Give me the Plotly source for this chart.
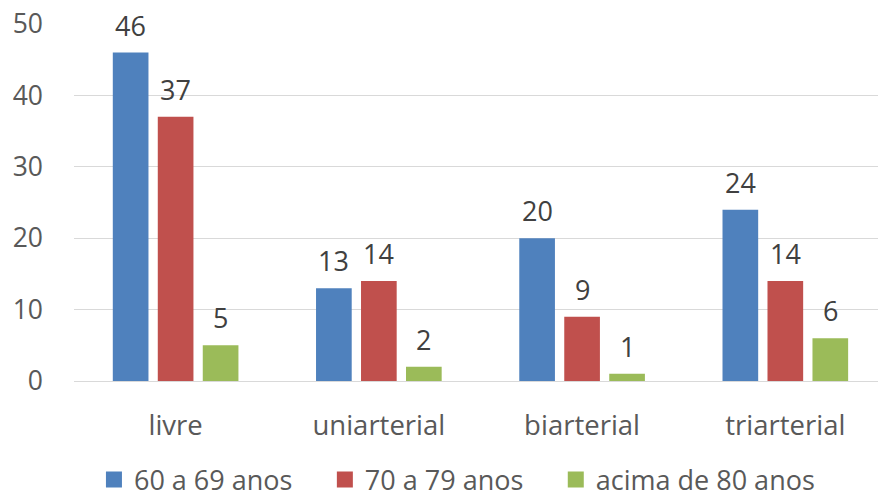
import plotly.graph_objects as go

categories = ["livre", "uniarterial", "biarterial", "triarterial"]
series_names = ["60 a 69 anos", "70 a 79 anos", "acima de 80 anos"]
values_60 = [46, 13, 20, 24]
values_70 = [37, 14, 9, 14]
values_80 = [5, 2, 1, 6]
colors = ["#4F81BD", "#C0504D", "#9BBB59"]
y_ticks = [0, 10, 20, 30, 40, 50]

FONT = "Open Sans, Lato, sans-serif"
BARGAP = 0.336
all_series = [values_60, values_70, values_80]
legend_ids = ["legend", "legend2", "legend3"]
legend_x = [0.107, 0.370, 0.633]

fig = go.Figure()
for name, vals, col in zip(series_names, all_series, colors):
    fig.add_trace(go.Bar(
        x=categories, y=vals, name=name, showlegend=False,
        marker=dict(color=col, line=dict(width=0)),
    ))
# legend entries with larger square swatches, one legend box each
for name, col, lid in zip(series_names, colors, legend_ids):
    fig.add_trace(go.Scatter(
        x=[None], y=[None], mode="markers", name=name, legend=lid, showlegend=True,
        marker=dict(symbol="square", size=18, color=col),
    ))

# data labels placed above each bar
slot = (1 - BARGAP) / len(all_series)
for s, vals in enumerate(all_series):
    off = (s - (len(all_series) - 1) / 2) * slot
    for i, v in enumerate(vals):
        fig.add_annotation(x=i + off, y=v, xref="x", yref="y", text=str(v),
                           showarrow=False, yanchor="bottom", yshift=7,
                           font=dict(size=27, color="#404040", family=FONT))

legend_style = dict(orientation="h", xref="container", xanchor="left",
                    yref="paper", y=-0.277, yanchor="middle", itemwidth=30,
                    font=dict(size=27, color="#595959", family=FONT),
                    bgcolor="rgba(0,0,0,0)")

fig.update_layout(
    width=878, height=499,
    margin=dict(l=74, r=0, t=24, b=118, autoexpand=False),
    paper_bgcolor="white", plot_bgcolor="white",
    barmode="group", bargap=BARGAP, bargroupgap=0.207,
    font=dict(family=FONT, size=27, color="#595959"),
    showlegend=True,
    legend=dict(x=legend_x[0], **legend_style),
    legend2=dict(x=legend_x[1], **legend_style),
    legend3=dict(x=legend_x[2], **legend_style),
)
fig.update_yaxes(range=[0, 50], tickvals=y_ticks, showgrid=True, gridcolor="#D9D9D9",
                 gridwidth=1, zeroline=False, showline=False, ticks="", automargin=False,
                 tickfont=dict(size=26.5, color="#595959"), ticklabelstandoff=30)
fig.update_xaxes(range=[-0.5, 3.456], showline=True, linecolor="#D9D9D9", linewidth=1,
                 ticks="", automargin=False,
                 tickfont=dict(size=27.5, color="#595959"), ticklabelstandoff=20)

fig.write_html("out.html", config={"displayModeBar": False},
               post_script="document.body.style.margin='0';document.body.style.overflow='hidden';")
